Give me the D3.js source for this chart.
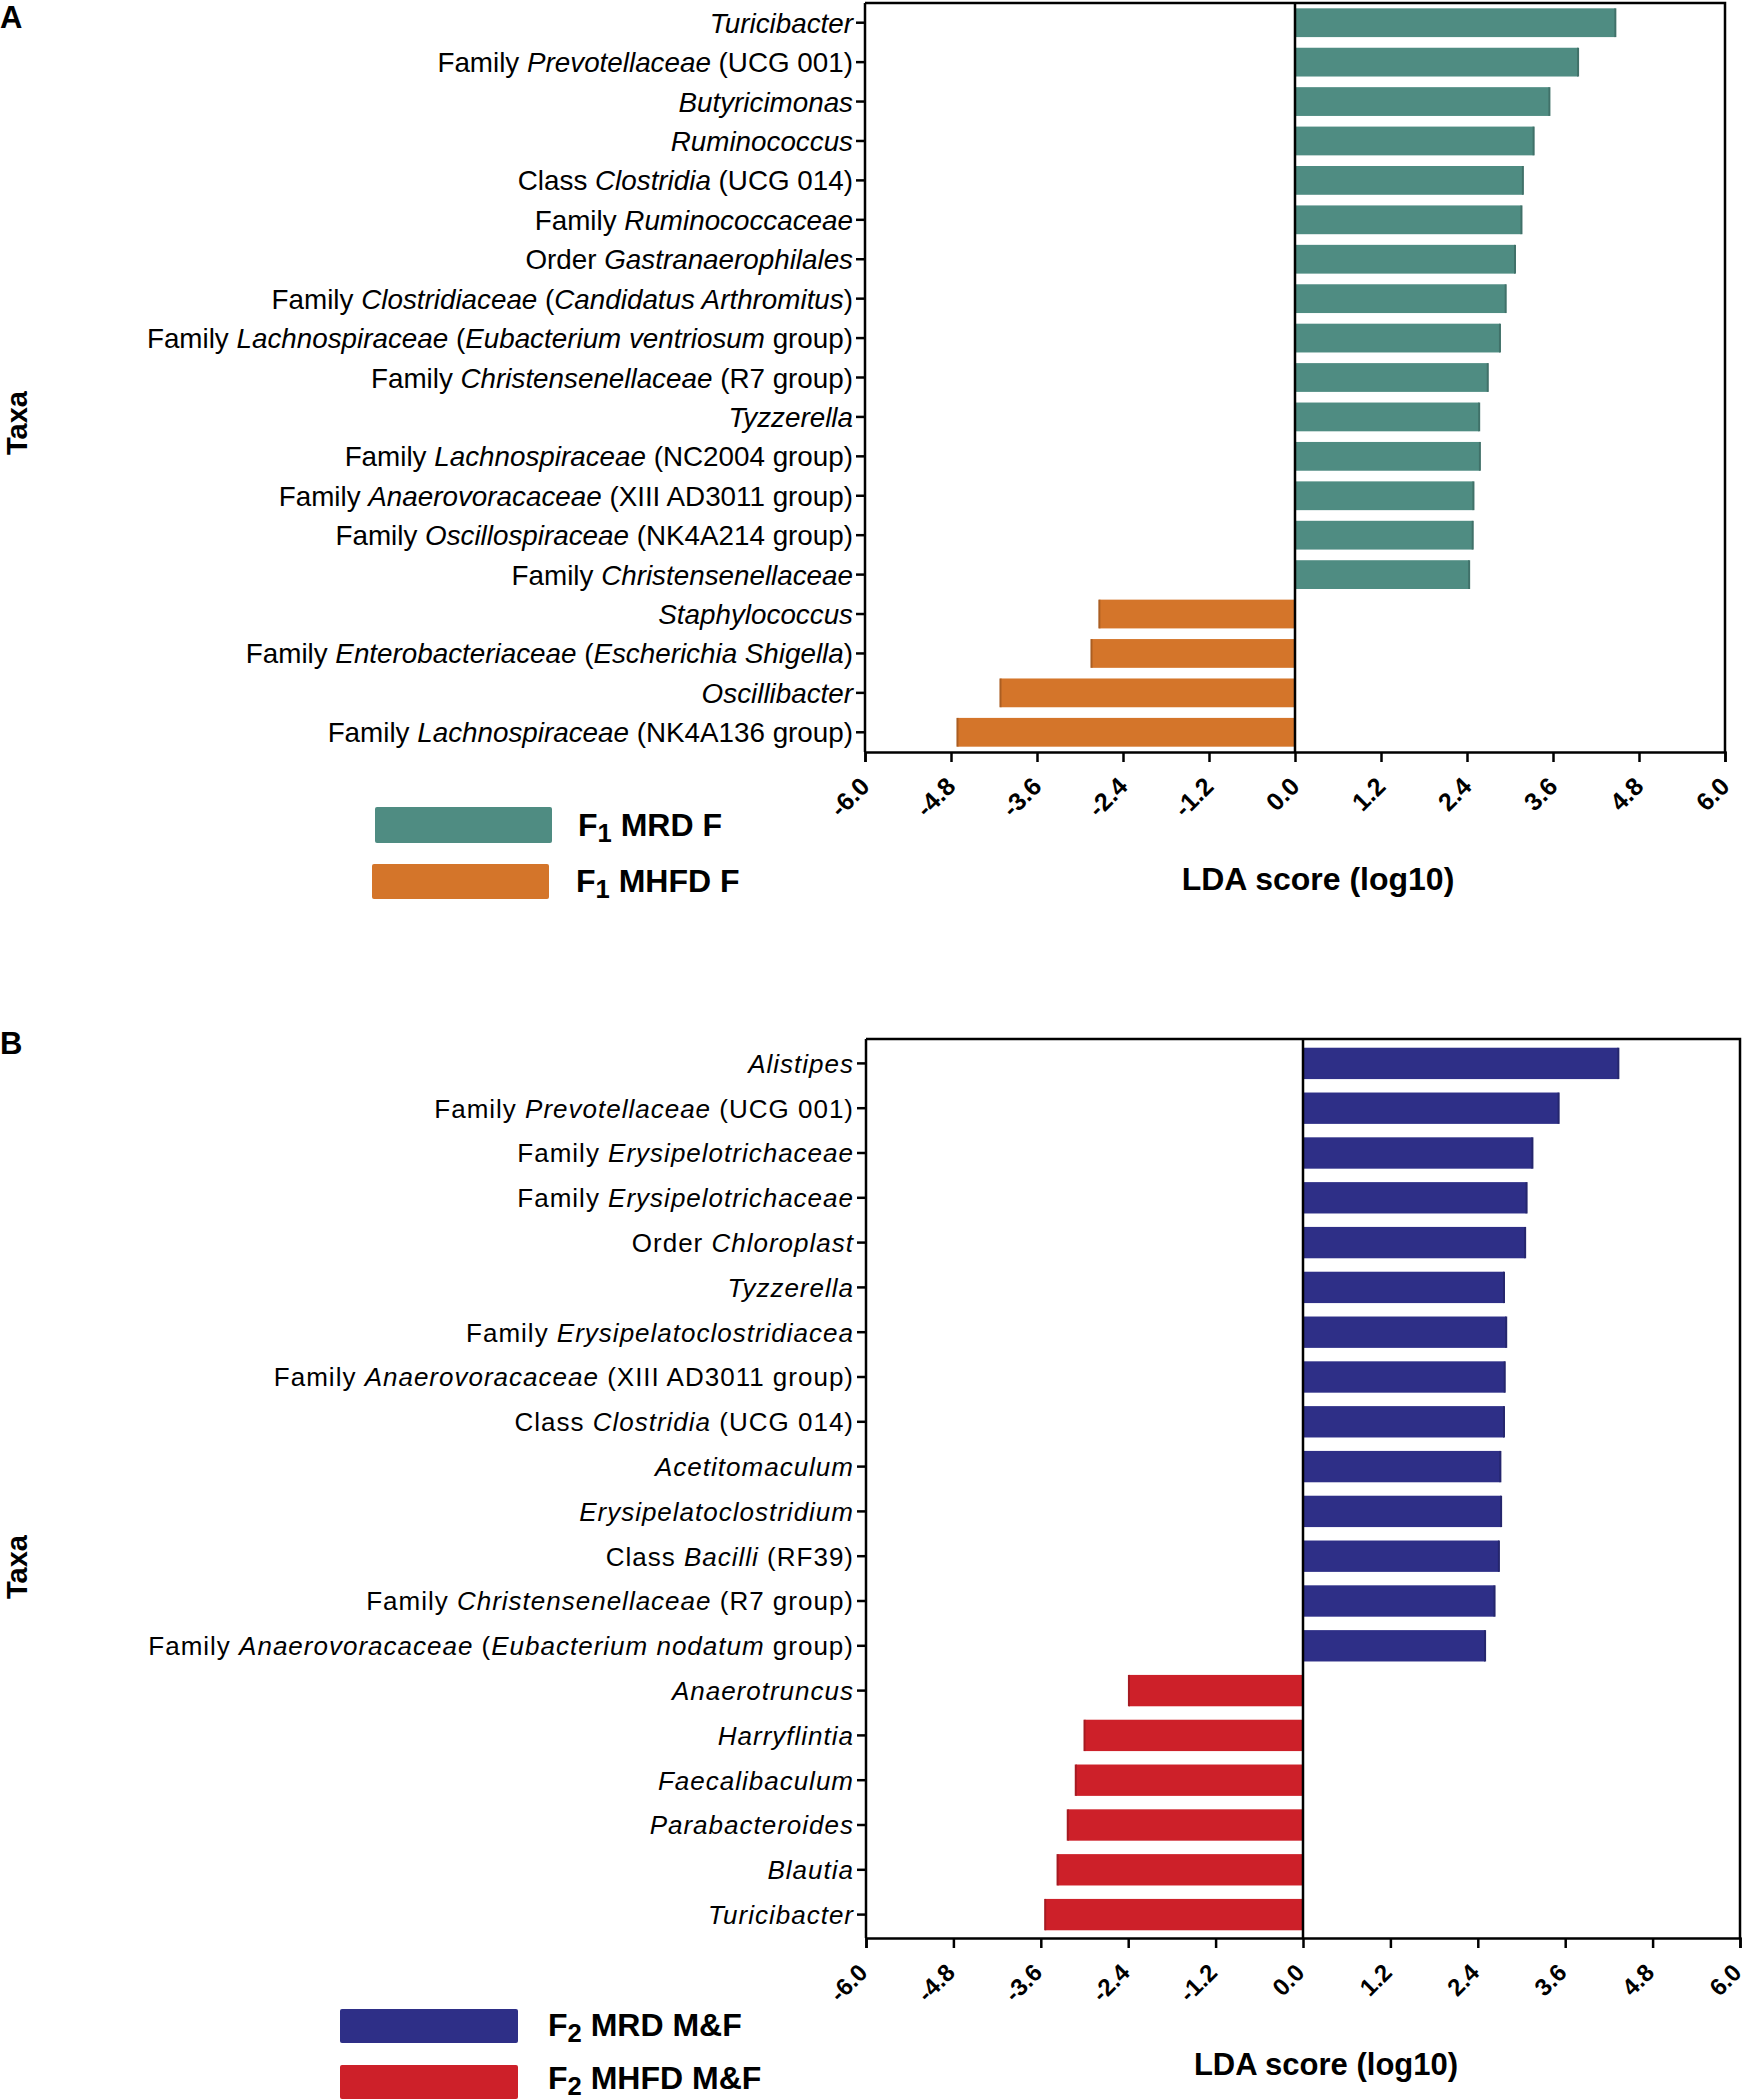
<!DOCTYPE html>
<html><head><meta charset="utf-8">
<script src="https://cdn.jsdelivr.net/npm/d3@7/dist/d3.min.js"></script>
<style>
body{margin:0;background:#fff;}
svg{display:block;}
</style></head>
<body>
<svg id="chart" width="1747" height="2100"></svg>
<script>
// ---------- DATA ----------
const taxaA = [
  "*Turicibacter*",
  "Family *Prevotellaceae* (UCG 001)",
  "*Butyricimonas*",
  "*Ruminococcus*",
  "Class *Clostridia* (UCG 014)",
  "Family *Ruminococcaceae* ",
  "Order *Gastranaerophilales* ",
  "Family *Clostridiaceae* (*Candidatus Arthromitus*)",
  "Family *Lachnospiraceae* (*Eubacterium ventriosum* group)",
  "Family *Christensenellaceae* (R7 group)",
  "*Tyzzerella*",
  "Family *Lachnospiraceae* (NC2004 group)",
  "Family *Anaerovoracaceae* (XIII AD3011 group)",
  "Family *Oscillospiraceae* (NK4A214 group)",
  "Family *Christensenellaceae* ",
  "*Staphylococcus*",
  "Family *Enterobacteriaceae* (*Escherichia Shigella*)",
  "*Oscillibacter*",
  "Family *Lachnospiraceae* (NK4A136 group)"
];
const ldaA = [4.47, 3.95, 3.55, 3.33, 3.18, 3.16, 3.07, 2.94, 2.86, 2.69, 2.57, 2.58, 2.49, 2.48, 2.43, -2.73, -2.84, -4.11, -4.71];

const taxaB = [
  "*Alistipes*",
  "Family *Prevotellaceae* (UCG 001)",
  "Family *Erysipelotrichaceae* ",
  "Family *Erysipelotrichaceae*",
  "Order *Chloroplast* ",
  "*Tyzzerella*",
  "Family *Erysipelatoclostridiacea*",
  "Family *Anaerovoracaceae* (XIII AD3011 group) ",
  "Class *Clostridia* (UCG 014)",
  "*Acetitomaculum*",
  "*Erysipelatoclostridium*",
  "Class *Bacilli* (RF39)",
  "Family *Christensenellaceae* (R7 group)",
  "Family *Anaerovoracaceae* (*Eubacterium nodatum* group)",
  "*Anaerotruncus*",
  "*Harryflintia*",
  "*Faecalibaculum*",
  "*Parabacteroides*",
  "*Blautia*",
  "*Turicibacter*"
];
const ldaB = [4.33, 3.51, 3.15, 3.07, 3.05, 2.76, 2.79, 2.77, 2.76, 2.71, 2.72, 2.69, 2.63, 2.50, -2.39, -3.00, -3.12, -3.23, -3.37, -3.54];

const xTicks = [-6.0, -4.8, -3.6, -2.4, -1.2, 0.0, 1.2, 2.4, 3.6, 4.8, 6.0];
const xDomain = [-6, 6];

const colorsA = {pos: "#4f8c82", neg: "#d4752a"};
const colorsB = {pos: "#2e2f87", neg: "#cd2029"};
const legendA = [{sub:"1", label:" MRD F", color: colorsA.pos}, {sub:"1", label:" MHFD F", color: colorsA.neg}];
const legendB = [{sub:"2", label:" MRD M&F", color: colorsB.pos}, {sub:"2", label:" MHFD M&F", color: colorsB.neg}];

// ---------- DRAW ----------
const svg = d3.select("#chart");
const SANS = "'Liberation Sans',Arial,Helvetica,sans-serif";

function richText(sel, str) {
  const parts = str.split("*");
  parts.forEach((p, i) => {
    if (p === "") return;
    sel.append("tspan").attr("font-style", i % 2 === 1 ? "italic" : "normal").text(p);
  });
}

function panel(cfg) {
  const g = svg.append("g");
  const x = d3.scaleLinear().domain(xDomain).range([cfg.left, cfg.right]);
  const y = d3.scaleBand().domain(cfg.taxa.map((d, i) => i)).range([cfg.bandTop, cfg.bandBottom]).paddingInner(cfg.pad).paddingOuter(cfg.pad / 2);

  // bars
  g.selectAll("rect.bar").data(cfg.values).join("rect")
    .attr("class", "bar")
    .attr("x", d => Math.min(x(0), x(d)))
    .attr("width", d => Math.abs(x(d) - x(0)))
    .attr("y", (d, i) => y(i))
    .attr("height", y.bandwidth())
    .attr("fill", d => d >= 0 ? cfg.colors.pos : cfg.colors.neg);
  // end caps
  g.selectAll("line.cap").data(cfg.values).join("line")
    .attr("class", "cap")
    .attr("x1", d => x(d)).attr("x2", d => x(d))
    .attr("y1", (d, i) => y(i)).attr("y2", (d, i) => y(i) + y.bandwidth())
    .attr("stroke", d => d3.color(d >= 0 ? cfg.colors.pos : cfg.colors.neg).darker(0.6))
    .attr("stroke-width", 2);

  // frame top/right
  g.append("path")
    .attr("d", `M${cfg.left},${cfg.top}H${cfg.right}V${cfg.bottom}`)
    .attr("fill", "none").attr("stroke", "#000").attr("stroke-width", 2.5);
  // zero line
  g.append("line").attr("x1", x(0)).attr("x2", x(0)).attr("y1", cfg.top).attr("y2", cfg.bottom)
    .attr("stroke", "#000").attr("stroke-width", 2.5);

  // x axis
  const xa = g.append("g").attr("transform", `translate(0,${cfg.bottom})`)
    .call(d3.axisBottom(x).tickValues(xTicks).tickSize(10).tickFormat(""));
  xa.select(".domain").attr("stroke-width", 2.5);
  xa.selectAll(".tick line").attr("stroke-width", 2.5);
  g.selectAll("text.xt").data(xTicks).join("text")
    .attr("class", "xt")
    .attr("transform", d => `translate(${x(d) + cfg.tickDx},${cfg.bottom + 36}) rotate(-45)`)
    .attr("text-anchor", "end")
    .attr("font-family", SANS).attr("font-weight", "bold").attr("font-size", cfg.tickSize)
    .text(d => d3.format(".1f")(d).replace("\u2212", "-"));

  // y axis
  const ya = g.append("g").attr("transform", `translate(${cfg.left},0)`)
    .call(d3.axisLeft(y).tickSize(9).tickFormat(""));
  ya.select(".domain").attr("stroke-width", 2.5).attr("d", `M0,${cfg.top}V${cfg.bottom}`);
  ya.selectAll(".tick line").attr("stroke-width", 2.5);
  g.selectAll("text.yl").data(cfg.taxa).join("text")
    .attr("class", "yl")
    .attr("x", cfg.left - 12)
    .attr("y", (d, i) => y(i) + y.bandwidth() / 2)
    .attr("dy", "0.36em")
    .attr("text-anchor", "end")
    .attr("font-family", SANS).attr("font-size", cfg.labelSize)
    .attr("letter-spacing", cfg.letterSpacing)
    .each(function(d) { richText(d3.select(this), d); });

  // axis titles
  g.append("text").attr("x", cfg.xTitleX).attr("y", cfg.xTitleY)
    .attr("text-anchor", "middle").attr("font-family", SANS).attr("font-weight", "bold")
    .attr("font-size", cfg.titleSize).text("LDA score (log10)");
  g.append("text").attr("transform", `translate(${cfg.taxaX},${cfg.taxaY}) rotate(-90)`)
    .attr("text-anchor", "middle").attr("font-family", SANS).attr("font-weight", "bold")
    .attr("font-size", 29).text("Taxa");
  g.append("text").attr("x", 0).attr("y", cfg.letterY)
    .attr("font-family", SANS).attr("font-weight", "bold").attr("font-size", 31).text(cfg.letter);

  // legend
  cfg.legend.forEach((L, i) => {
    const it = cfg.legendItems[i];
    g.append("rect").attr("x", it.rx).attr("y", it.ry).attr("width", it.rw).attr("height", it.rh)
      .attr("rx", 2).attr("fill", L.color);
    const t = g.append("text").attr("x", it.tx).attr("y", it.ty)
      .attr("font-family", SANS).attr("font-weight", "bold").attr("font-size", cfg.legendSize);
    t.append("tspan").text("F");
    t.append("tspan").attr("dy", 6).attr("font-size", cfg.legendSize * 0.8).text(L.sub);
    t.append("tspan").attr("dy", -6).text(L.label);
  });
}

panel({
  taxa: taxaA, values: ldaA, colors: colorsA, pad: 0.27,
  left: 865, right: 1725, top: 3, bottom: 752, bandTop: 3, bandBottom: 752,
  labelSize: 27.8, letterSpacing: 0,
  tickSize: 25, tickDx: 6,
  titleSize: 32, xTitleX: 1318, xTitleY: 890,
  taxaX: 27, taxaY: 423, letter: "A", letterY: 28,
  legend: legendA, legendSize: 32,
  legendItems: [
    {rx: 375, ry: 807, rw: 177, rh: 36, tx: 578, ty: 836},
    {rx: 372, ry: 864, rw: 177, rh: 35, tx: 576, ty: 892}
  ]
});

panel({
  taxa: taxaB, values: ldaB, colors: colorsB, pad: 0.3,
  left: 866, right: 1740, top: 1039, bottom: 1938, bandTop: 1041, bandBottom: 1937,
  labelSize: 26, letterSpacing: 1.0,
  tickSize: 24, tickDx: 3,
  titleSize: 31, xTitleX: 1326, xTitleY: 2075,
  taxaX: 27, taxaY: 1567, letter: "B", letterY: 1054,
  legend: legendB, legendSize: 32,
  legendItems: [
    {rx: 340, ry: 2009, rw: 178, rh: 34, tx: 548, ty: 2036},
    {rx: 340, ry: 2065, rw: 178, rh: 34, tx: 548, ty: 2089}
  ]
});
</script>
</body></html>
